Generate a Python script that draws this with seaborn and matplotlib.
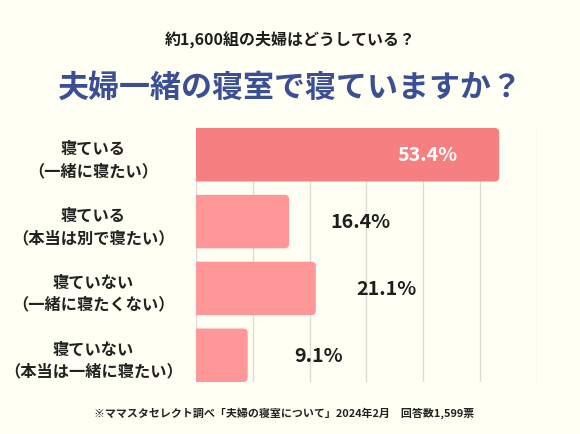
import matplotlib
matplotlib.use("Agg")
import matplotlib.pyplot as plt
from matplotlib.patches import FancyBboxPatch
import seaborn as sns
import pandas as pd

categories = [
    "寝ている\n（一緒に寝たい）",
    "寝ている\n（本当は別で寝たい）",
    "寝ていない\n（一緒に寝たくない）",
    "寝ていない\n（本当は一緒に寝たい）",
]
values = [53.4, 16.4, 21.1, 9.1]
value_labels = ["53.4%", "16.4%", "21.1%", "9.1%"]
bar_colors = ["#F57F81", "#FF9698", "#FF9698", "#FF9698"]
x_ticks = [0, 10, 20, 30, 40, 50, 60]

subtitle = "約1,600組の夫婦はどうしている？"
title = "夫婦一緒の寝室で寝ていますか？"
footnote = "※ママスタセレクト調べ「夫婦の寝室について」2024年2月　回答数1,599票"

BG = "#FFFFF4"
sns.set_theme(style="white")
plt.rcParams["font.family"] = ["Noto Sans CJK JP", "DejaVu Sans"]

df = pd.DataFrame({"cat": categories, "val": values})

W, H = 580, 435
fig = plt.figure(figsize=(5.8, 4.35), dpi=100, facecolor=BG)
ax_left, ax_right, ax_top, ax_bottom = 196, 536.7, 129, 383
ax = fig.add_axes([ax_left / W, 1 - ax_bottom / H, (ax_right - ax_left) / W, (ax_bottom - ax_top) / H])
ax.set_facecolor(BG)

sns.barplot(data=df, x="val", y="cat", hue="cat", palette=bar_colors, legend=False,
            orient="h", width=0.8, saturation=1, ax=ax, zorder=2)

ax.set_xlim(0, 60)
ax.set_ylim(3.4, -0.4)

# rounded bars
xpp = 60 / (ax_right - ax_left)
ypp = 3.8 / (ax_bottom - ax_top)
r_px = 4.5
for p in list(ax.patches):
    x0, y0 = p.get_x(), p.get_y()
    w, h = p.get_width(), p.get_height()
    fc = p.get_facecolor()
    p.set_visible(False)
    ext = 3
    fb = FancyBboxPatch((x0 - ext, y0), w + ext, h,
                        boxstyle=f"round,pad=0,rounding_size={r_px * xpp}",
                        mutation_aspect=ypp / xpp, facecolor=fc, edgecolor="none",
                        zorder=2)
    ax.add_patch(fb)

ax.set_xticks(x_ticks)
ax.grid(axis="x", color="#DDDCD2", linewidth=1.0, zorder=0)
ax.grid(axis="y", visible=False)
for s in ax.spines.values():
    s.set_visible(False)
ax.tick_params(axis="x", length=0, labelbottom=False)
ax.tick_params(axis="y", length=0, pad=74)
ax.set_xlabel("")
ax.set_ylabel("")
for lbl in ax.get_yticklabels():
    lbl.set_horizontalalignment("center")
    lbl.set_multialignment("center")
    lbl.set_fontsize(11.7)
    lbl.set_fontweight("bold")
    lbl.set_color("#222222")
    lbl.set_linespacing(1.45)

for i, (v, t) in enumerate(zip(values, value_labels)):
    if i == 0:
        ax.text(v - 7.3, i, t, ha="right", va="center", fontsize=14.2,
                fontweight="bold", color="white", zorder=3)
    else:
        ax.text(v + 12.5, i, t, ha="center", va="center", fontsize=14.2,
                fontweight="bold", color="#1E1E1E", zorder=3)

fig.text(0.5, 1 - 39.5 / H, subtitle, ha="center", va="center", fontsize=11.5,
         fontweight="bold", color="#1E1E1E")
fig.text(0.5, 1 - 88 / H, title, ha="center", va="center", fontsize=22.3,
         fontweight="bold", color="#3B4F96")
fig.text(0.49, 1 - 413 / H, footnote, ha="center", va="center", fontsize=7.9,
         fontweight="bold", color="#222222")

fig.savefig("out.png", dpi=100, facecolor=BG)
